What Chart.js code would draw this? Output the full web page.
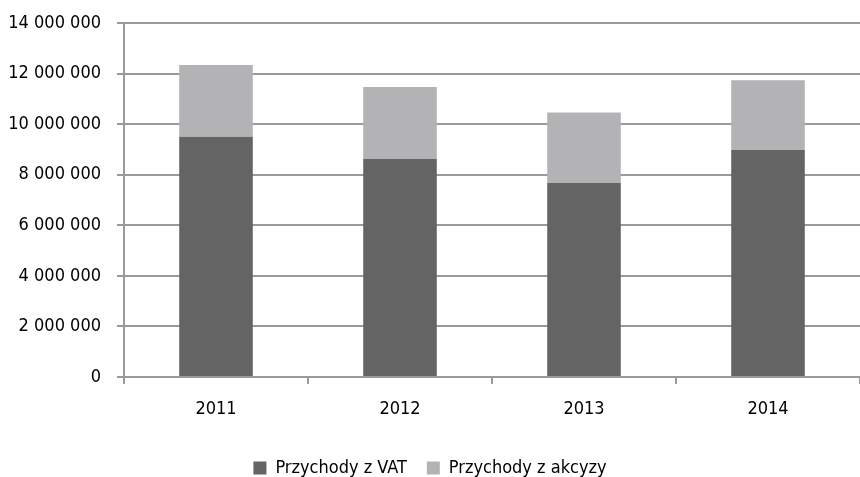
<!DOCTYPE html>
<html><head><meta charset="utf-8">
<script src="https://cdn.jsdelivr.net/npm/chart.js@4/dist/chart.umd.min.js"></script>
<style>html,body{margin:0;padding:0;background:#fff}#wrap{width:860px;height:477px}</style>
</head><body><div id="wrap"><canvas id="c"></canvas></div>
<script>
const categories = ['2011', '2012', '2013', '2014'];
const vatValues = [9500000, 8620000, 7670000, 8980000];
const akcyzaValues = [2840000, 2850000, 2790000, 2760000];
const seriesNames = ['Przychody z VAT', 'Przychody z akcyzy'];
const yTicksMax = 14000000;
const yTicksStep = 2000000;

const FONT = '"DejaVu Sans Condensed", "Liberation Sans Narrow", sans-serif';
const GRID = '#9a9a9a';
Chart.defaults.font.family = FONT;
Chart.defaults.font.size = 18;
Chart.defaults.color = '#000';

new Chart(document.getElementById('c'), {
  type: 'bar',
  data: {
    labels: categories,
    datasets: [
      { label: seriesNames[0], data: vatValues, backgroundColor: '#646464', barPercentage: 0.4, categoryPercentage: 1 },
      { label: seriesNames[1], data: akcyzaValues, backgroundColor: '#b3b3b5', barPercentage: 0.4, categoryPercentage: 1 }
    ]
  },
  options: {
    responsive: true, maintainAspectRatio: false, animation: false,
    layout: { padding: { top: 23, right: 0, left: 0, bottom: -10 } },
    plugins: {
      tooltip: { enabled: false },
      legend: { position: 'bottom', labels: { boxWidth: 13, boxHeight: 13, padding: 20, color: '#000', font: { size: 18 } } }
    },
    scales: {
      x: {
        stacked: true,
        grid: { offset: true, drawOnChartArea: false, color: GRID, lineWidth: 2, tickLength: 7 },
        border: { color: GRID, width: 2 },
        ticks: { padding: 15, color: '#000' },
        afterFit: s => { s.height = 62; }
      },
      y: {
        stacked: true, min: 0, max: yTicksMax,
        grid: { color: GRID, lineWidth: 2, tickLength: 7 },
        border: { color: GRID, width: 2 },
        ticks: { stepSize: yTicksStep, padding: 16, color: '#000',
          callback: v => String(v).replace(/\B(?=(\d{3})+(?!\d))/g, ' ') },
        afterFit: s => { s.width = 124; s.paddingTop = 0; s.paddingBottom = 0; }
      }
    }
  }
});
</script></body></html>
